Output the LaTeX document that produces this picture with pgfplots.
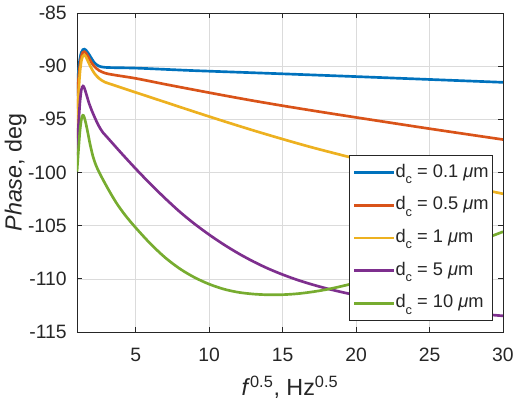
\documentclass[border=0pt]{standalone}
\usepackage{fontspec}
\setmainfont{Liberation Sans}
\usepackage{pgfplots}
\pgfplotsset{compat=1.18}
\definecolor{c1}{rgb}{0,0.447,0.741}
\definecolor{c2}{rgb}{0.850,0.325,0.098}
\definecolor{c3}{rgb}{0.929,0.694,0.125}
\definecolor{c4}{rgb}{0.494,0.184,0.556}
\definecolor{c5}{rgb}{0.466,0.674,0.188}
\definecolor{axc}{rgb}{0.15,0.15,0.15}
\newcommand{\dc}{d\raisebox{-0.35em}{\fontsize{9.6}{11}\selectfont c}}
\begin{document}
\begin{tikzpicture}
\begin{axis}[
  scale only axis, width=319.5pt, height=239.25pt,
  at={(0,0)}, anchor=south west,
  xmin=1, xmax=30, ymin=-115, ymax=-85,
  xtick={5,10,...,30}, ytick={-115,-110,...,-85},
  grid=major, grid style={draw=black!14, line width=0.5pt},
  tick align=inside, major tick length=4pt,
  axis line style={draw=axc, line width=0.6pt},
  tick style={draw=axc, line width=0.6pt},
  /pgf/number format/assume math mode=true,
  every tick label/.append style={font=\fontsize{14.5}{17}\selectfont, text=axc},
  yticklabel style={anchor=east, inner sep=0pt, xshift=-7.5pt},
  xticklabel style={anchor=north, inner sep=0pt, yshift=-12pt},
  xlabel={\textit{f}\textsuperscript{0.5}, Hz\textsuperscript{0.5}},
  ylabel={\textit{Phase}, deg},
  xlabel style={at={(axis description cs:0.5,-0.1998)}, anchor=base, font=\fontsize{17.5}{20}\selectfont, text=axc},
  ylabel style={at={(axis description cs:-0.1299,0.5)}, anchor=base, rotate=0, font=\fontsize{17.5}{20}\selectfont, text=axc},
  legend cell align=left,
  legend style={at={(axis description cs:0.975,0.0345)}, anchor=south east,
    draw=axc, fill=white, line width=0.6pt, font=\fontsize{13.7}{16}\selectfont, text=axc,
    inner xsep=2.5pt, inner ysep=6.5pt, row sep=11.5pt,
    nodes={inner sep=0pt, text height=10pt, text depth=3pt},
    /tikz/every even column/.append style={column sep=3pt}},
  legend image code/.code={\draw[#1, line width=2pt] (0pt,0pt) -- (30pt,0pt);},
  every axis plot/.append style={line width=2pt, smooth, tension=0.5},
]
\addplot[c1] coordinates {(1,-92.8) (1.1,-90.5) (1.2,-89.3) (1.3,-88.7) (1.4,-88.45) (1.5,-88.4) (1.6,-88.48) (1.8,-88.85) (2.0,-89.3) (2.2,-89.7) (2.5,-90.0) (2.9,-90.11) (3.5,-90.14) (5,-90.18) (7,-90.3) (9,-90.42) (12,-90.57) (15,-90.72) (20,-90.98) (25,-91.25) (30,-91.52)};
\addlegendentry{\dc{} = 0.1 \textit{μ}m}
\addplot[c2] coordinates {(1,-94) (1.1,-91.3) (1.2,-89.9) (1.3,-89.05) (1.4,-88.7) (1.5,-88.64) (1.6,-88.75) (1.8,-89.2) (2.0,-89.7) (2.2,-90.05) (2.5,-90.4) (2.9,-90.65) (3.5,-90.82) (5,-91.15) (7,-91.7) (9,-92.23) (11,-92.75) (13,-93.25) (15,-93.72) (17,-94.17) (20,-94.82) (25,-95.88) (30,-96.9)};
\addlegendentry{\dc{} = 0.5 \textit{μ}m}
\addplot[c3] coordinates {(1,-96.8) (1.1,-92.8) (1.2,-90.6) (1.3,-89.5) (1.4,-89.05) (1.5,-88.95) (1.6,-89.1) (1.8,-89.7) (2.0,-90.25) (2.2,-90.7) (2.5,-91.15) (2.9,-91.5) (3.5,-91.78) (5,-92.47) (7,-93.38) (9,-94.29) (11,-95.18) (13,-96.04) (15,-96.86) (17,-97.64) (19.4,-98.5) (22,-99.42) (25,-100.45) (28,-101.42) (30,-102.0)};
\addlegendentry{\dc{} = 1 \textit{μ}m}
\addplot[c4] coordinates {(1,-98.4) (1.1,-95.6) (1.2,-93.4) (1.3,-92.2) (1.41,-91.87) (1.5,-92.05) (1.65,-92.7) (1.8,-93.4) (2.0,-94.15) (2.2,-94.8) (2.4,-95.4) (2.6,-95.9) (2.8,-96.3) (3.0,-96.6) (4,-98.15) (5,-99.65) (6,-101.08) (7,-102.43) (8,-103.7) (9,-104.83) (10,-105.85) (11,-106.78) (12,-107.62) (13,-108.37) (14,-109.03) (15,-109.6) (16,-110.1) (17,-110.53) (18,-110.91) (19,-111.24) (20,-111.53) (22,-112.05) (25,-112.72) (28,-113.24) (30,-113.48)};
\addlegendentry{\dc{} = 5 \textit{μ}m}
\addplot[c5] coordinates {(1,-99.92) (1.1,-97.9) (1.2,-96.1) (1.3,-95.0) (1.39,-94.62) (1.48,-94.75) (1.6,-95.35) (1.75,-96.35) (1.9,-97.4) (2.1,-98.55) (2.3,-99.35) (2.5,-99.95) (2.8,-100.75) (3.2,-101.75) (3.7,-102.9) (4.3,-104.05) (5,-105.2) (6,-106.7) (7,-108.0) (8,-109.05) (9,-109.87) (10,-110.5) (11,-110.97) (12,-111.27) (13,-111.43) (14,-111.5) (15,-111.49) (16,-111.4) (17,-111.23) (18,-111.0) (19,-110.7) (20,-110.35) (22.5,-109.33) (25,-108.17) (27.5,-106.9) (30,-105.57)};
\addlegendentry{\dc{} = 10 \textit{μ}m}
\end{axis}
\pgfresetboundingbox
\useasboundingbox (-57.75pt,-54pt) rectangle (330.75pt,249pt);
\end{tikzpicture}
\end{document}
